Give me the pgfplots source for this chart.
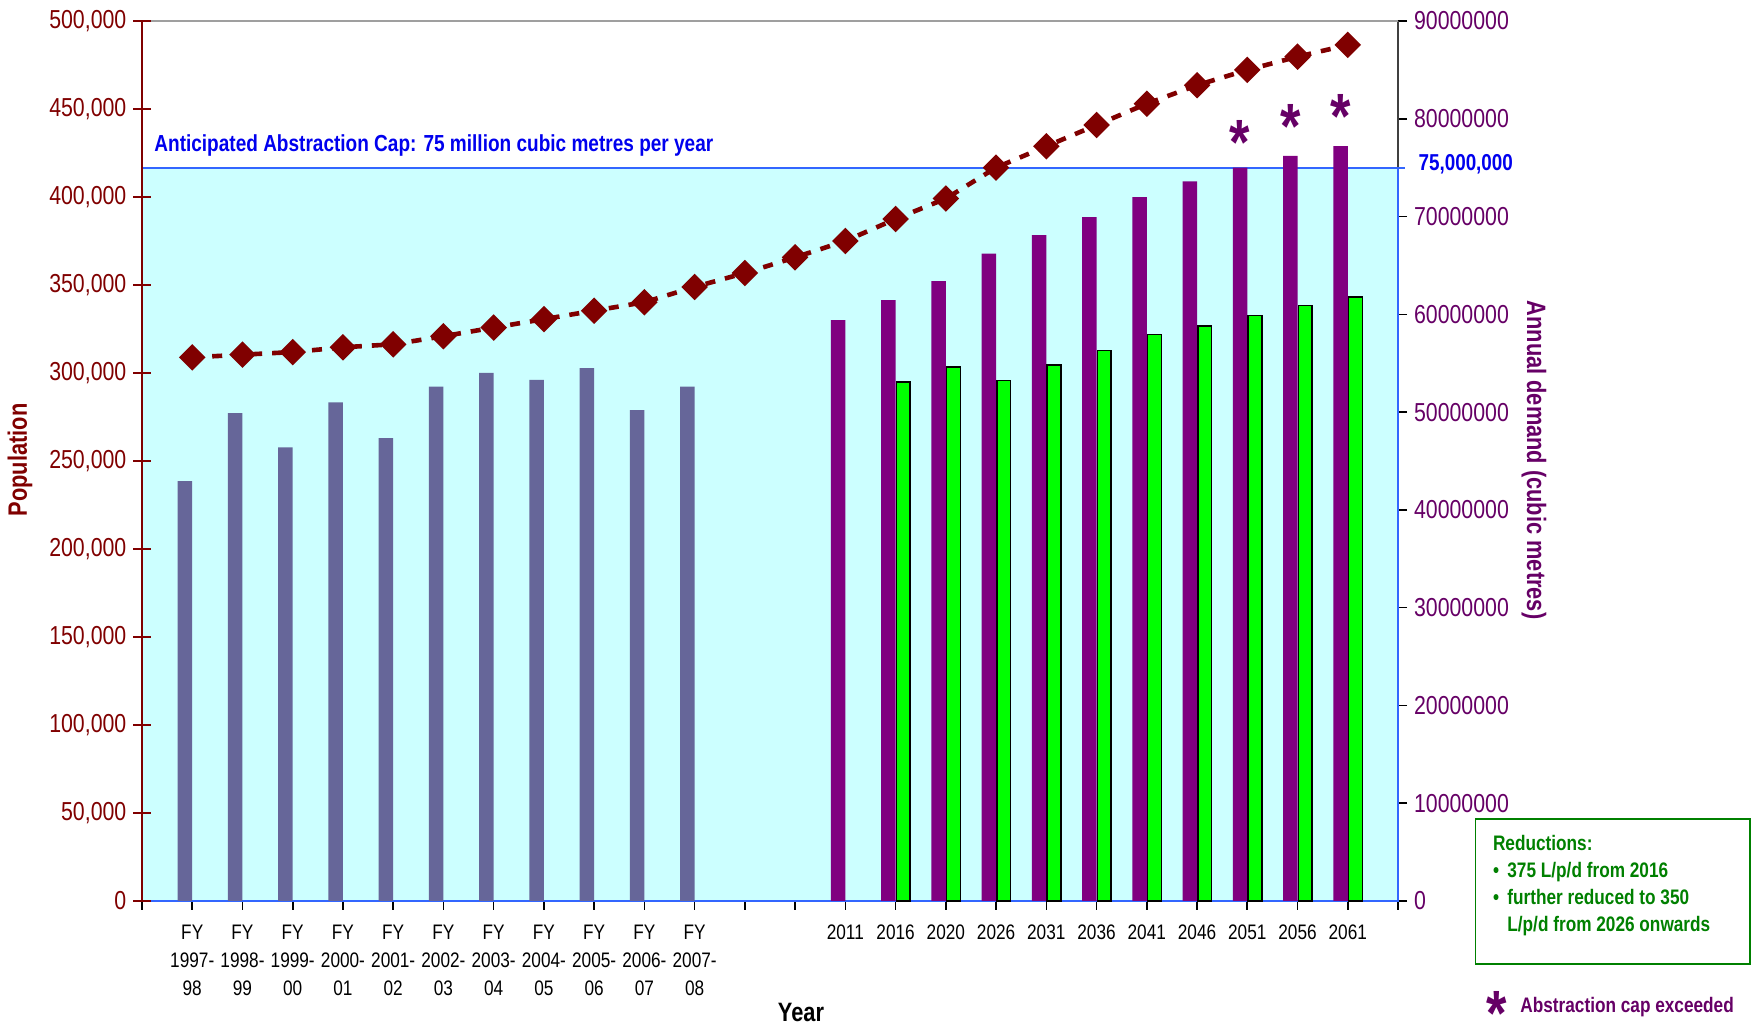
\documentclass[border=0pt]{standalone}
\usepackage{fontspec}
\setmainfont{Liberation Sans}[FakeStretch=0.82]
\usepackage{pgfplots}
\pgfplotsset{compat=1.18}
\usetikzlibrary{plotmarks}

\definecolor{popred}{HTML}{800000}
\definecolor{histblue}{HTML}{666699}
\definecolor{dempurple}{HTML}{800080}
\definecolor{labpurple}{HTML}{660066}
\definecolor{redgreen}{HTML}{00FF00}
\definecolor{bgcyan}{HTML}{CCFFFF}
\definecolor{capblue}{HTML}{3366FF}
\definecolor{textblue}{HTML}{0000EE}
\definecolor{boxgreen}{HTML}{008000}

\newcommand\tickfont{\fontsize{13}{15}\selectfont}
\newcommand\labfont{\bfseries\fontsize{13.3}{15}\selectfont}

\begin{document}
\begin{tikzpicture}
\useasboundingbox (-71pt,-62.5pt) rectangle (805pt,450.5pt);

% demand (right axis): background, bars, asterisks
\begin{axis}[
  scale only axis, width=628pt, height=440pt,
  xmin=0, xmax=25, ymin=0, ymax=90000000,
  axis y line*=right, axis x line*=bottom,
  x axis line style={capblue, line width=1pt},
  y axis line style={black!75, line width=1pt},
  tick style={black, line width=0.8pt},
  tick align=outside, major tick length=4.5pt,
  xtick={0,1,2,3,4,5,6,7,8,9,10,11,12,13,14,15,16,17,18,19,20,21,22,23,24,25},
  xticklabels={{},{FY\\1997-\\98},{FY\\1998-\\99},{FY\\1999-\\00},{FY\\2000-\\01},{FY\\2001-\\02},{FY\\2002-\\03},{FY\\2003-\\04},{FY\\2004-\\05},{FY\\2005-\\06},{FY\\2006-\\07},{FY\\2007-\\08},{},{},2011,2016,2020,2026,2031,2036,2041,2046,2051,2056,2061,{}},
  xticklabel style={align=center, font=\fontsize{10.5}{14}\selectfont, text=black, yshift=-4pt},
  ytick={0,10000000,20000000,30000000,40000000,50000000,60000000,70000000,80000000,90000000},
  yticklabels={0,10000000,20000000,30000000,40000000,50000000,60000000,70000000,80000000,90000000},
  yticklabel style={text=labpurple, font=\tickfont},
  extra y ticks={75000000},
  extra y tick labels={\textbf{75,000,000}},
  extra y tick style={tick align=center, major tick length=6.5pt,
    tick style={capblue, line width=1pt},
    yticklabel style={text=textblue, font=\fontsize{11.5}{13}\selectfont, xshift=3.5pt, yshift=1.7pt}},
  clip=false,
]
\draw[gray!75, line width=1pt] (rel axis cs:0,1) -- (rel axis cs:1,1);
\addplot[fill=bgcyan, draw=capblue, line width=1pt] coordinates {(0,0) (0,75000000) (25,75000000) (25,0)} -- cycle;

% historical demand
\addplot[ybar, bar width=7.25pt, bar shift=-3.625pt, fill=histblue, draw=none] coordinates {
  (1,42950000) (2,49900000) (3,46400000) (4,51000000) (5,47350000) (6,52600000)
  (7,54000000) (8,53300000) (9,54500000) (10,50200000) (11,52600000)};
% projected demand
\addplot[ybar, bar width=7.25pt, bar shift=-3.625pt, fill=dempurple, draw=none] coordinates {
  (14,59400000) (15,61450000) (16,63400000) (17,66200000) (18,68100000) (19,69950000)
  (20,72000000) (21,73600000) (22,75000000) (23,76200000) (24,77200000)};
% projected demand with reductions
\addplot[ybar, bar width=6.9pt, bar shift=3.85pt, fill=redgreen, draw=black, line width=0.8pt] coordinates {
  (15,53050000) (16,54600000) (17,53250000) (18,54800000) (19,56300000)
  (20,57950000) (21,58800000) (22,59900000) (23,60900000) (24,61800000)};
% cap exceeded
\addplot[labpurple, only marks, mark=text, text mark={*}, text mark as node=true,
  text mark style={anchor=base, inner sep=0pt, font=\bfseries\fontsize{32}{32}\selectfont, text=labpurple}]
  coordinates {(21.855,75300000) (22.855,77000000) (23.855,78000000)};
\end{axis}

% population (left axis)
\begin{axis}[
  scale only axis, width=628pt, height=440pt,
  xmin=0, xmax=25, ymin=0, ymax=500000,
  axis y line*=left, axis x line=none,
  y axis line style={popred, line width=0.9pt},
  tick style={popred, line width=0.8pt},
  tick align=center, major tick length=8.6pt,
  ytick={0,50000,100000,150000,200000,250000,300000,350000,400000,450000,500000},
  yticklabels={0,{50,000},{100,000},{150,000},{200,000},{250,000},{300,000},{350,000},{400,000},{450,000},{500,000}},
  yticklabel style={text=popred, font=\tickfont},
  clip=false,
]
\addplot[popred, line width=2.3pt, dash pattern=on 5pt off 5pt,
  mark=square*, mark size=3.54pt, mark options={solid, rotate=45, fill=popred}] coordinates {
  (1,308900) (2,310400) (3,311900) (4,314600) (5,316300) (6,320900) (7,325800) (8,330600)
  (9,335400) (10,340200) (11,348900) (12,356800) (13,365700) (14,375000) (15,387500) (16,399100)
  (17,416700) (18,428800) (19,440900) (20,453000) (21,463500) (22,472200) (23,479700) (24,486400)};
\end{axis}

\node[rotate=90, font=\labfont, text=popred] at (-61pt,220.5pt) {Population};
\node[rotate=-90, font=\labfont, text=labpurple] at (696pt,220.5pt) {Annual demand (cubic metres)};
\node[font=\labfont, text=black] at (329.5pt,-55.5pt) {Year};
\node[anchor=west, inner sep=0pt, font=\bfseries\fontsize{11.6}{13}\selectfont, text=textblue] at (6pt,377.5pt)
  {Anticipated Abstraction Cap: 75 million cubic metres per year};

\draw[boxgreen, line width=0.8pt] (666.8pt,-31.5pt) rectangle (804pt,41.1pt);
\begin{scope}[every node/.style={anchor=base west, inner sep=0pt, text=boxgreen, font=\bfseries\fontsize{10.5}{13}\selectfont}]
\node at (675.3pt,25.2pt) {Reductions:};
\node at (675.3pt,11.7pt) {\textbullet};
\node at (682.5pt,11.7pt) {375 L/p/d from 2016};
\node at (675.3pt,-1.8pt) {\textbullet};
\node at (682.5pt,-1.8pt) {further reduced to 350};
\node at (682.5pt,-15.3pt) {L/p/d from 2026 onwards};
\end{scope}
\node[anchor=base, inner sep=0pt, text=labpurple, font=\bfseries\fontsize{32}{32}\selectfont] at (677.5pt,-67.4pt) {*};
\node[anchor=west, inner sep=0pt, text=labpurple, font=\bfseries\fontsize{10.5}{13}\selectfont] at (689pt,-53pt) {Abstraction cap exceeded};
\end{tikzpicture}
\end{document}
